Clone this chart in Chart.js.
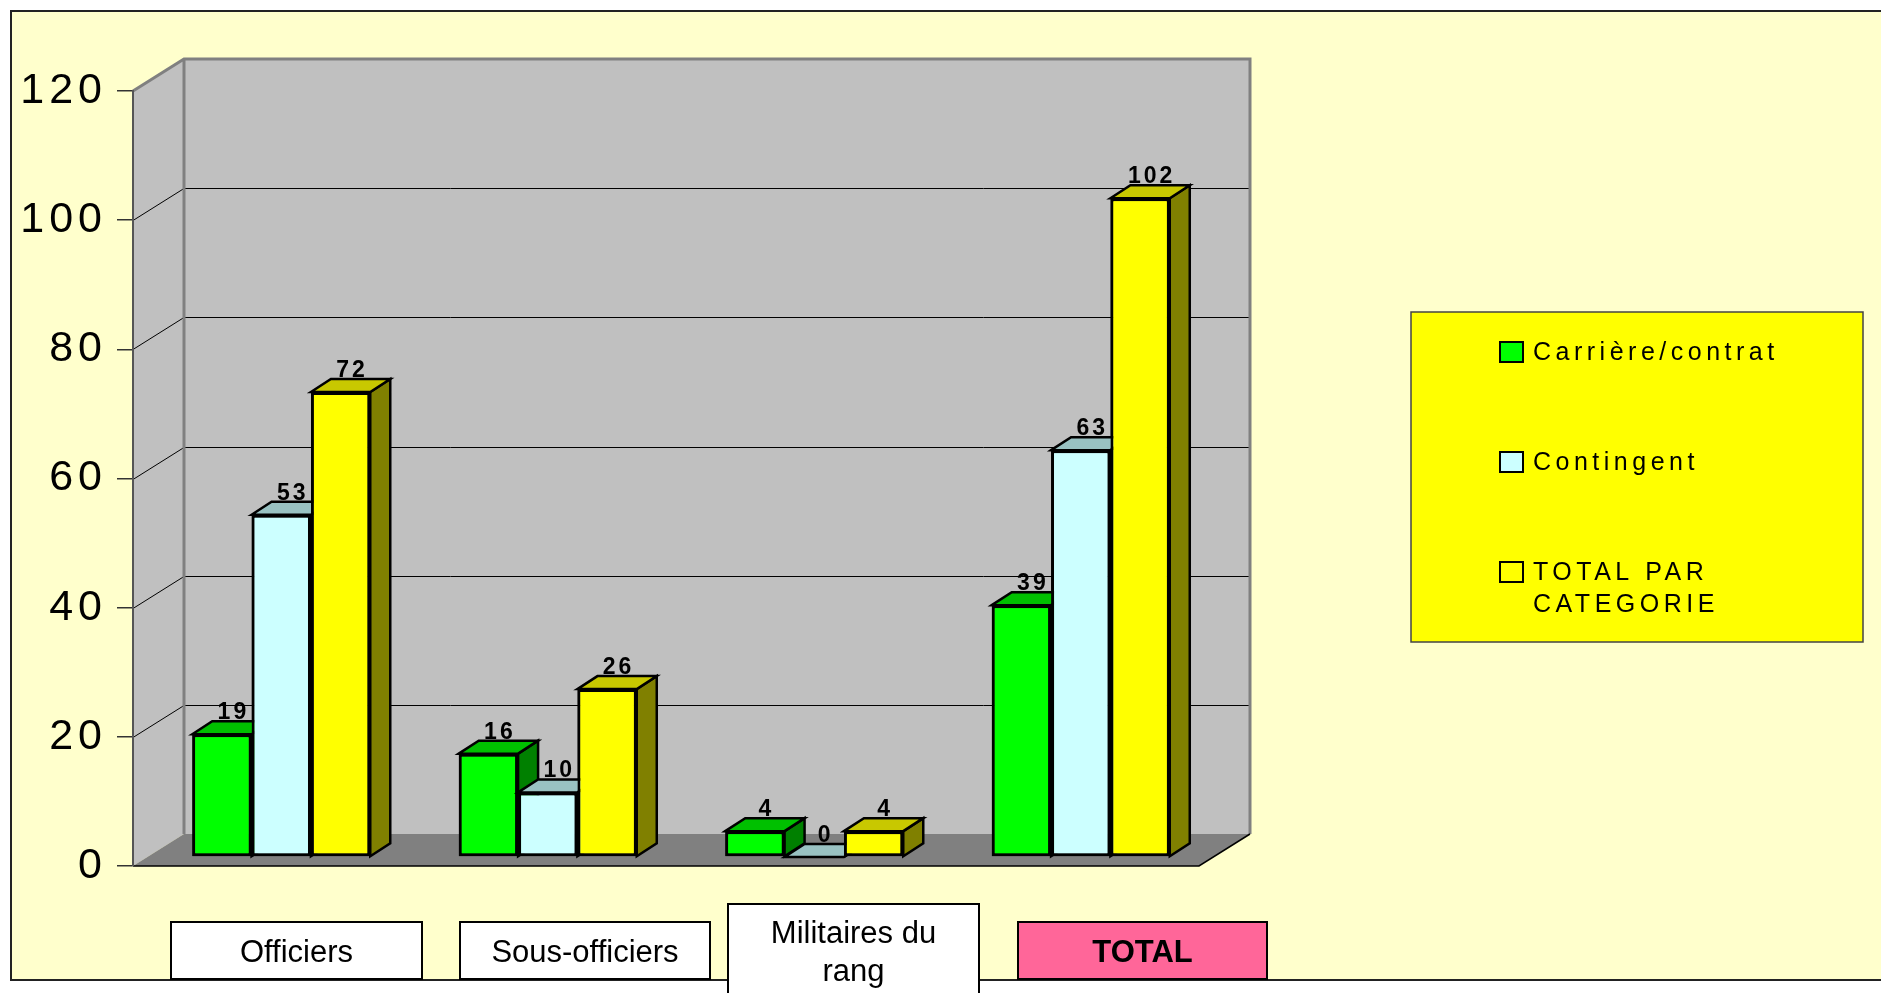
<!DOCTYPE html>
<html>
<head>
<meta charset="utf-8">
<title>Effectifs par catégorie</title>
<script src="https://cdn.jsdelivr.net/npm/chart.js@4.4.0/dist/chart.umd.min.js"></script>
<style>
  html, body { margin: 0; padding: 0; background: #fff; }
  canvas { display: block; }
</style>
</head>
<body>
<canvas id="graphique" width="1881" height="993"></canvas>
<script>
var categories = ['Officiers', 'Sous-officiers', ['Militaires du', 'rang'], 'TOTAL'];
var carriere = [19, 16, 4, 39];
var contingent = [53, 10, 0, 63];
var totalCategorie = [72, 26, 4, 102];
var yTicks = [0, 20, 40, 60, 80, 100, 120];

var police = '"Liberation Sans", Arial, sans-serif';
var profondeur = { x: 51, y: -32 };  // depth of the walls
var recul = { x: 15, y: -9 };        // bars stand a bit behind the front plane
var epaisseur = { x: 20, y: -13 };   // depth of one bar

var couleurs = [
  { face: '#00FF00', dessus: '#00C000', cote: '#008000' },
  { face: '#CCFFFF', dessus: '#99C2C2', cote: '#669999' },
  { face: '#FFFF00', dessus: '#C8C800', cote: '#808000' }
];

// text boxes under the chart, placed by hand like in the original slide
var boites = [
  { x: 171, y: 922, w: 251, h: 57, fond: '#FFFFFF', gras: false },
  { x: 460, y: 922, w: 250, h: 57, fond: '#FFFFFF', gras: false },
  { x: 728, y: 904, w: 251, h: 100, fond: '#FFFFFF', gras: false },
  { x: 1018, y: 922, w: 249, h: 57, fond: '#FF6699', gras: true }
];

function poly(ctx, pts) {
  ctx.beginPath();
  ctx.moveTo(pts[0][0], pts[0][1]);
  for (var i = 1; i < pts.length; i++) ctx.lineTo(pts[i][0], pts[i][1]);
  ctx.closePath();
}

var decor = {
  id: 'decor',
  beforeDraw: function(chart) {
    var ctx = chart.ctx, a = chart.chartArea, sy = chart.scales.y;
    var x0 = a.left, x1 = a.right;
    var yb = sy.getPixelForValue(0), yt = sy.getPixelForValue(120);
    var dx = profondeur.x, dy = profondeur.y;
    ctx.save();
    // frame
    ctx.fillStyle = '#FFFFCC';
    ctx.fillRect(11, 11, chart.width, 969);
    ctx.strokeStyle = '#222';
    ctx.lineWidth = 2;
    ctx.beginPath();
    ctx.moveTo(chart.width + 2, 11);
    ctx.lineTo(11, 11);
    ctx.lineTo(11, 980);
    ctx.lineTo(chart.width + 2, 980);
    ctx.stroke();

    // walls
    ctx.fillStyle = '#C0C0C0';
    poly(ctx, [[x0, yt], [x0 + dx, yt + dy], [x0 + dx, yb + dy], [x0, yb]]);
    ctx.fill();
    ctx.fillRect(x0 + dx, yt + dy, x1 - x0, yb - yt);

    ctx.strokeStyle = '#000';
    ctx.lineWidth = 1;
    yTicks.forEach(function(v) {
      if (v === 0 || v === 120) return;
      var p = Math.round(sy.getPixelForValue(v)) + 0.5;
      ctx.beginPath();
      ctx.moveTo(x0, p);
      ctx.lineTo(x0 + dx, p + dy);
      ctx.lineTo(x1 + dx, p + dy);
      ctx.stroke();
    });

    ctx.strokeStyle = '#808080';
    ctx.lineWidth = 3;
    ctx.beginPath();
    ctx.moveTo(x0, yt);
    ctx.lineTo(x0 + dx, yt + dy);
    ctx.lineTo(x1 + dx, yt + dy);
    ctx.lineTo(x1 + dx, yb + dy);
    ctx.moveTo(x0 + dx, yt + dy);
    ctx.lineTo(x0 + dx, yb + dy);
    ctx.stroke();

    // floor
    ctx.fillStyle = '#808080';
    poly(ctx, [[x0, yb], [x0 + dx, yb + dy], [x1 + dx, yb + dy], [x1, yb]]);
    ctx.fill();
    ctx.strokeStyle = '#000';
    ctx.lineWidth = 1.5;
    ctx.beginPath();
    ctx.moveTo(x0, yb);
    ctx.lineTo(x1, yb);
    ctx.lineTo(x1 + dx, yb + dy);
    ctx.stroke();
    ctx.restore();

    // wide spacing for the axis numbers
    ctx.letterSpacing = '5px';
  },
  beforeDatasetsDraw: function(chart) {
    var ctx = chart.ctx;
    ctx.letterSpacing = '0px';
    ctx.save();
    ctx.translate(recul.x, recul.y);
  },
  afterDatasetsDraw: function(chart) {
    var ctx = chart.ctx;
    var ex = epaisseur.x, ey = epaisseur.y;
    var n = chart.data.datasets.length;
    for (var i = 0; i < chart.data.labels.length; i++) {
      for (var d = 0; d < n; d++) {
        var bar = chart.getDatasetMeta(d).data[i];
        var c = couleurs[d];
        var g = bar.x - bar.width / 2, r = bar.x + bar.width / 2, t = bar.y, b = bar.base;
        ctx.save();
        ctx.lineWidth = 2.5;
        ctx.strokeStyle = '#000';
        ctx.lineJoin = 'miter';
        ctx.fillStyle = c.cote;
        poly(ctx, [[r, t], [r + ex, t + ey], [r + ex, b + ey], [r, b]]);
        ctx.fill();
        ctx.stroke();
        ctx.fillStyle = c.dessus;
        poly(ctx, [[g, t], [g + ex, t + ey], [r + ex, t + ey], [r, t]]);
        ctx.fill();
        ctx.stroke();
        ctx.restore();
        bar.draw(ctx);
      }
    }
    // value labels
    ctx.save();
    ctx.font = 'bold 23px ' + police;
    ctx.letterSpacing = '3px';
    ctx.fillStyle = '#000';
    ctx.textAlign = 'center';
    ctx.textBaseline = 'alphabetic';
    for (var dd = 0; dd < n; dd++) {
      var meta = chart.getDatasetMeta(dd);
      meta.data.forEach(function(bar, j) {
        var v = chart.data.datasets[dd].data[j];
        ctx.fillText(String(v), bar.x + ex / 2 + 1.5, bar.y + ey - 2);
      });
    }
    ctx.letterSpacing = '0px';
    ctx.restore();
    ctx.restore();
  },
  afterDraw: function(chart) {
    var ctx = chart.ctx;
    ctx.save();
    // legend box
    ctx.fillStyle = '#FFFF00';
    ctx.fillRect(1411, 312, 452, 330);
    ctx.strokeStyle = '#444';
    ctx.lineWidth = 1.5;
    ctx.strokeRect(1411, 312, 452, 330);
    ctx.font = '25px ' + police;
    ctx.letterSpacing = '4.5px';
    ctx.textAlign = 'left';
    ctx.textBaseline = 'middle';
    chart.data.datasets.forEach(function(ds, k) {
      var cy = 352 + k * 110;
      ctx.fillStyle = ds.backgroundColor;
      ctx.fillRect(1500, cy - 10, 23, 20);
      ctx.strokeStyle = '#000';
      ctx.lineWidth = 2;
      ctx.strokeRect(1500, cy - 10, 23, 20);
      // wrap the label on words
      var mots = ds.label.split(' '), ligne = '', lignes = [];
      mots.forEach(function(m) {
        var essai = ligne ? ligne + ' ' + m : m;
        if (ctx.measureText(essai).width > 300 && ligne) {
          lignes.push(ligne);
          ligne = m;
        } else {
          ligne = essai;
        }
      });
      lignes.push(ligne);
      ctx.fillStyle = '#000';
      lignes.forEach(function(l, q) {
        ctx.fillText(l, 1533, cy + 1 + q * 32);
      });
    });
    ctx.letterSpacing = '0px';

    // category text boxes
    ctx.textAlign = 'center';
    ctx.textBaseline = 'middle';
    boites.forEach(function(bx, k) {
      ctx.fillStyle = bx.fond;
      ctx.fillRect(bx.x, bx.y, bx.w, bx.h);
      ctx.strokeStyle = '#000';
      ctx.lineWidth = 2;
      ctx.strokeRect(bx.x, bx.y, bx.w, bx.h);
      ctx.fillStyle = '#000';
      ctx.font = (bx.gras ? 'bold ' : '') + '31px ' + police;
      var txt = categories[k];
      if (Array.isArray(txt)) {
        txt.forEach(function(l, q) {
          ctx.fillText(l, bx.x + bx.w / 2, 934 + q * 38);
        });
      } else {
        ctx.fillText(txt, bx.x + bx.w / 2, bx.y + bx.h / 2 + 3);
      }
    });
    ctx.restore();
  }
};

var ctx = document.getElementById('graphique').getContext('2d');
var graphique = new Chart(ctx, {
  type: 'bar',
  data: {
    labels: categories,
    datasets: [{
      label: 'Carrière/contrat',
      data: carriere,
      backgroundColor: couleurs[0].face
    }, {
      label: 'Contingent',
      data: contingent,
      backgroundColor: couleurs[1].face
    }, {
      label: 'TOTAL PAR CATEGORIE',
      data: totalCategorie,
      backgroundColor: couleurs[2].face
    }]
  },
  options: {
    responsive: false,
    animation: false,
    events: [],
    layout: {
      padding: { top: 91, right: 682, bottom: 127, left: 0 }
    },
    datasets: {
      bar: {
        borderColor: '#000',
        borderWidth: 3,
        borderSkipped: false,
        categoryPercentage: 0.668,
        barPercentage: 1.0
      }
    },
    scales: {
      x: { display: false },
      y: {
        min: 0,
        max: 120,
        afterFit: function(s) { s.width = 133; },
        afterBuildTicks: function(s) {
          s.ticks = yTicks.map(function(v) { return { value: v }; });
        },
        ticks: {
          color: '#000',
          font: { family: police, size: 43 },
          padding: 10
        },
        grid: {
          drawOnChartArea: false,
          drawTicks: true,
          tickLength: 16,
          color: '#333',
          lineWidth: 1.5
        },
        border: { display: true, color: '#555', width: 2 }
      }
    },
    plugins: {
      legend: { display: false },
      tooltip: { enabled: false }
    }
  },
  plugins: [decor]
});
</script>
</body>
</html>
